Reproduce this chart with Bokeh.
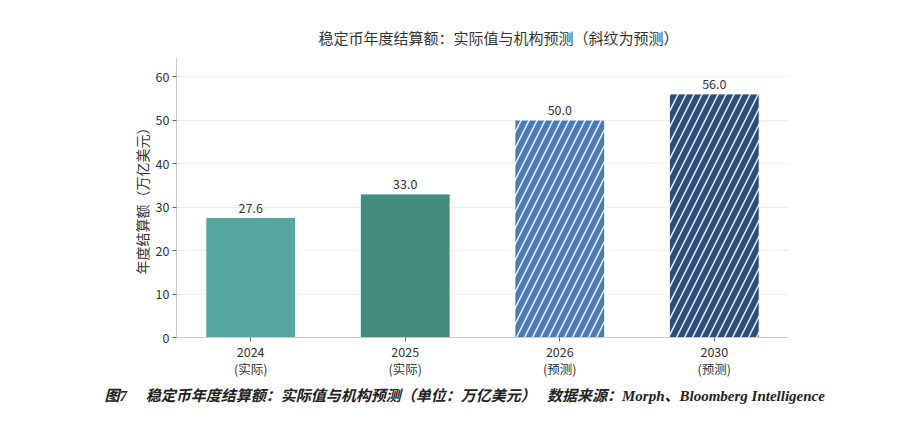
from bokeh.plotting import figure
from bokeh.models import ColumnDataSource, FixedTicker, Title, Range1d, LabelSet
from bokeh.core.properties import value
from bokeh.embed import file_html
from bokeh.resources import INLINE

years = ["2024", "2025", "2026", "2030"]
kinds = ["(实际)", "(实际)", "(预测)", "(预测)"]
values = [27.6, 33.0, 50.0, 56.0]
colors = ["#55A79F", "#458B80", "#4A7BB7", "#2D4E7A"]
hatches = [" ", " ", "/", "/"]
y_ticks = [0, 10, 20, 30, 40, 50, 60]

FONT = "'Noto Sans CJK SC', 'Noto Sans', sans-serif"

xs = list(range(len(years)))
src = ColumnDataSource(dict(
    x=xs, top=values, color=colors, hatch=hatches,
    label=[f"{v:.1f}" for v in values],
))

p = figure(width=892, height=422, output_backend="svg", toolbar_location=None,
           min_border_left=176, min_border_right=104, min_border_top=57,
           min_border_bottom=85,
           x_range=Range1d(-0.48, 3.48), y_range=Range1d(0, 64.4))

p.title.text = "稳定币年度结算额：实际值与机构预测（斜纹为预测）"
p.title.align = "left"
p.title.offset = 142
p.title.text_font = FONT
p.title.text_font_size = "15px"
p.title.text_font_style = "normal"
p.title.text_color = "#333333"
p.title.standoff = 10

spacer = Title(text=" ", text_font_size="3px", standoff=0)
p.above = [spacer] + list(p.above)

p.vbar(x="x", top="top", bottom=0, width=0.58, source=src,
       fill_color="color", line_color="white", line_width=0.8,
       hatch_pattern="hatch", hatch_color="white", hatch_alpha=0.9,
       hatch_scale=16, hatch_weight=1.5)

labels = LabelSet(x="x", y="top", text="label", source=src,
                  text_align="center", text_baseline="bottom", y_offset=5,
                  text_font=value(FONT), text_font_size=value("12.5px"),
                  text_color="#333333")
p.add_layout(labels)

p.outline_line_color = None
p.background_fill_color = "white"
p.xgrid.grid_line_color = None
p.ygrid.grid_line_color = "#eeeeee"
p.ygrid.grid_line_width = 1
p.ygrid.ticker = FixedTicker(ticks=y_ticks)

p.yaxis.ticker = FixedTicker(ticks=y_ticks)
p.xaxis.ticker = FixedTicker(ticks=xs)
p.xaxis.major_label_overrides = {i: f"{years[i]}\n{kinds[i]}" for i in xs}

for ax in (p.xaxis, p.yaxis):
    ax.axis_line_color = "#cccccc"
    ax.major_tick_line_color = "#666666"
    ax.major_tick_out = 4
    ax.major_tick_in = 0
    ax.minor_tick_line_color = None
    ax.major_label_text_font = FONT
    ax.major_label_text_font_size = "12.5px"
    ax.major_label_text_color = "#333333"
    ax.major_label_standoff = 3
p.xaxis.major_label_standoff = 0
p.xaxis.major_label_text_line_height = 0.9

p.yaxis.axis_label = "年度结算额（万亿美元）"
p.yaxis.axis_label_text_font = FONT
p.yaxis.axis_label_text_font_size = "14px"
p.yaxis.axis_label_text_font_style = "normal"
p.yaxis.axis_label_text_color = "#333333"
p.yaxis.axis_label_standoff = 1

caption = Title(text="图7　 稳定币年度结算额：实际值与机构预测（单位：万亿美元）　  数据来源：Morph、Bloomberg Intelligence",
                align="left", offset=-72,
                text_font="'Liberation Serif', 'Noto Sans CJK SC', serif",
                text_font_style="bold italic", text_font_size="15px",
                text_color="#222222", standoff=11)
p.add_layout(caption, "below")

open("out.html", "w").write(file_html(p, INLINE))
